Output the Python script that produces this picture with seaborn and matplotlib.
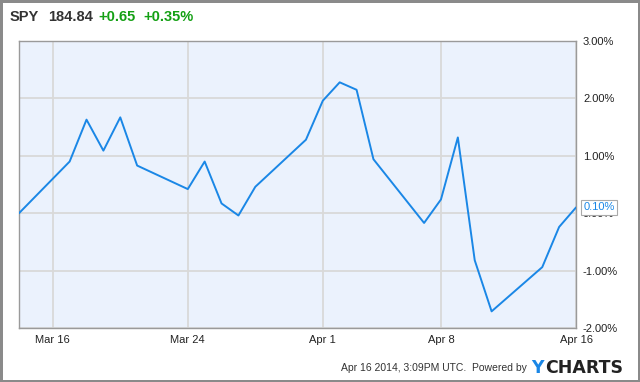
import matplotlib
matplotlib.use("Agg")
import matplotlib.pyplot as plt
import seaborn as sns
import pandas as pd

dates = ["2014-03-14", "2014-03-17", "2014-03-18", "2014-03-19", "2014-03-20", "2014-03-21",
         "2014-03-24", "2014-03-25", "2014-03-26", "2014-03-27", "2014-03-28",
         "2014-03-31", "2014-04-01", "2014-04-02", "2014-04-03", "2014-04-04",
         "2014-04-07", "2014-04-08", "2014-04-09", "2014-04-10", "2014-04-11",
         "2014-04-14", "2014-04-15", "2014-04-16"]
pct_change = [0.00, 0.90, 1.63, 1.09, 1.67, 0.83,
              0.42, 0.90, 0.17, -0.04, 0.46,
              1.28, 1.96, 2.28, 2.15, 0.94,
              -0.17, 0.24, 1.32, -0.82, -1.71,
              -0.94, -0.24, 0.10]
x_ticks = ["2014-03-16", "2014-03-24", "2014-04-01", "2014-04-08", "2014-04-16"]
x_tick_labels = ["Mar 16", "Mar 24", "Apr 1", "Apr 8", "Apr 16"]
y_ticks = [-2, -1, 0, 1, 2, 3]
y_tick_labels = ["-2.00%", "-1.00%", "0.00%", "1.00%", "2.00%", "3.00%"]

df = pd.DataFrame({"date": pd.to_datetime(dates), "pct": pct_change})

sns.set_style("white")
plt.rcParams["font.family"] = ["Liberation Sans", "DejaVu Sans"]

W, H = 640, 382
fig = plt.figure(figsize=(W / 100, H / 100), dpi=100, edgecolor="#8a8a8a", linewidth=2.5)
fig.patch.set_facecolor("white")
L, R, T, B = 19, 576, 41, 328
ax = fig.add_axes([L / W, 1 - B / H, (R - L) / W, (B - T) / H])
ax.set_facecolor("#ebf2fd")

line_color = "#1a87e6"
sns.lineplot(data=df, x="date", y="pct", ax=ax, color=line_color, linewidth=1.4, zorder=3)

ax.set_xlim(pd.Timestamp("2014-03-14"), pd.Timestamp("2014-04-16"))
ax.set_ylim(-2, 3)
ax.set_xticks(pd.to_datetime(x_ticks))
ax.set_xticklabels(x_tick_labels)
ax.set_yticks(y_ticks)
ax.set_yticklabels(y_tick_labels)
ax.yaxis.tick_right()
ax.tick_params(axis="both", length=0, labelsize=8, colors="#222222")
ax.tick_params(axis="y", pad=5)
ax.tick_params(axis="x", pad=5)
ax.grid(True, color="#d9d9d9", linewidth=1.3, zorder=0)
ax.set_axisbelow(True)
ax.set_xlabel("")
ax.set_ylabel("")
for s in ax.spines.values():
    s.set_visible(True)
    s.set_color("#9a9a9a")
    s.set_linewidth(1.0)

# last value label
ax.annotate("0.10%", xy=(1.0, (pct_change[-1] + 2) / 5), xycoords="axes fraction",
            xytext=(5.5, 0), textcoords="offset points", ha="left", va="center",
            fontsize=8, color=line_color, zorder=10, annotation_clip=False,
            bbox=dict(boxstyle="square,pad=0.2", fc="white", ec="#aaaaaa", lw=0.8))

# header
fig.text(10 / W, 1 - 17 / H, "SPY", fontsize=10.5, fontweight="bold", color="#333333", va="center")
fig.text(48 / W, 1 - 17 / H, "184.84", fontsize=10.5, fontweight="bold", color="#333333", va="center")
fig.text(98 / W, 1 - 17 / H, "+0.65", fontsize=10.5, fontweight="bold", color="#14a014", va="center")
fig.text(143 / W, 1 - 17 / H, "+0.35%", fontsize=10.5, fontweight="bold", color="#14a014", va="center")

# footer
fig.text(527 / W, 1 - 368 / H, "Apr 16 2014, 3:09PM UTC.  Powered by", fontsize=7.5,
         color="#333333", ha="right", va="center")
fig.text(531 / W, 1 - 368 / H, "Y", fontsize=12.5, fontweight="bold", color="#1a87e6",
         va="center", family="DejaVu Sans")
fig.text(545 / W, 1 - 368 / H, "CHARTS", fontsize=12.5, fontweight="bold", color="#222222",
         va="center", family="DejaVu Sans")

fig.savefig("out.png", dpi=100)
